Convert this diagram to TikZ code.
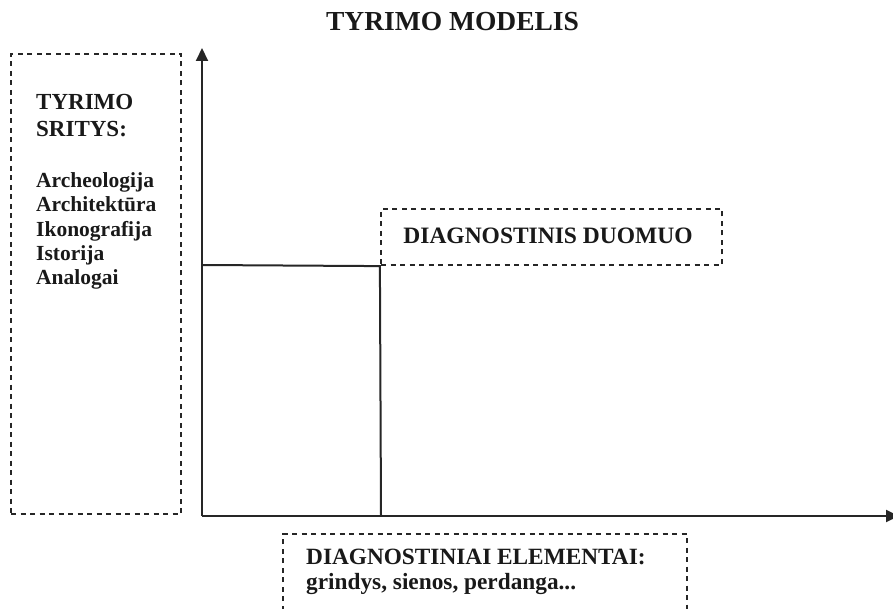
\documentclass[tikz,border=0pt]{standalone}
\usepackage{fontspec}
\setmainfont{Liberation Serif}
\usetikzlibrary{arrows.meta}
\begin{document}
\begin{tikzpicture}[x=1pt,y=-1pt,
  dbox/.style={draw=black!85, line width=2.2pt, dash pattern=on 5pt off 4.5pt, inner sep=0pt},
  axisline/.style={draw=black!85, line width=2pt, -{Triangle[length=13pt,width=12pt]}},
  divline/.style={draw=black!85, line width=2pt},
  txt/.style={inner sep=0pt, text=black!90, font=\bfseries},
  listtxt/.style={txt, anchor=base west, font=\bfseries\fontsize{21.5}{24}\selectfont},
  headtxt/.style={txt, anchor=base west, font=\bfseries\fontsize{23}{26}\selectfont},
  bottxt/.style={txt, anchor=base west, font=\bfseries\fontsize{23.3}{26}\selectfont}
]
\useasboundingbox (0,0) rectangle (893,609);
\clip (0,0) rectangle (893,609);

% title
\node[txt, anchor=base, font=\bfseries\fontsize{27.5}{30}\selectfont] (title) at (452.5,30.5) {TYRIMO MODELIS};

% left box: research areas
\node[dbox, minimum width=170pt, minimum height=460pt] (areasbox) at (96,284) {};
\node[headtxt] (areas1) at (36,110) {TYRIMO};
\node[headtxt] (areas2) at (36,136.7) {SRITYS:};
\node[listtxt] (l1) at (36,187.5) {Archeologija};
\node[listtxt] (l2) at (36,212) {Architektūra};
\node[listtxt] (l3) at (36,236.5) {Ikonografija};
\node[listtxt] (l4) at (36,260.5) {Istorija};
\node[listtxt] (l5) at (36,284.5) {Analogai};

% axes
\coordinate (origin) at (202,516);
\coordinate (ytip) at (202,48);
\coordinate (xtip) at (899,516);
\draw[axisline] (origin) -- (ytip);
\draw[axisline] (origin) -- (xtip);

% diagnostic datum box
\node[dbox, minimum width=341pt, minimum height=56pt] (datum) at (551.5,237) {};
\node[txt, anchor=base, font=\bfseries\fontsize{23.5}{26}\selectfont] (datumtxt) at (548,243.3) {DIAGNOSTINIS DUOMUO};

% divider lines
\coordinate (ymark) at (202,265);
\coordinate (xmark) at (381,516);
\draw[divline] (ymark) -- (datum.south west) -- (xmark);

% bottom box (open at the bottom)
\coordinate (bbl) at (283,620);
\coordinate (btl) at (283,534);
\coordinate (btr) at (687,534);
\coordinate (bbr) at (687,620);
\draw[dbox] (bbl) -- (btl) -- (btr) -- (bbr);
\node[bottxt] (elems1) at (306,564) {DIAGNOSTINIAI ELEMENTAI:};
\node[bottxt] (elems2) at (306,589.5) {grindys, sienos, perdanga...};
\end{tikzpicture}
\end{document}
